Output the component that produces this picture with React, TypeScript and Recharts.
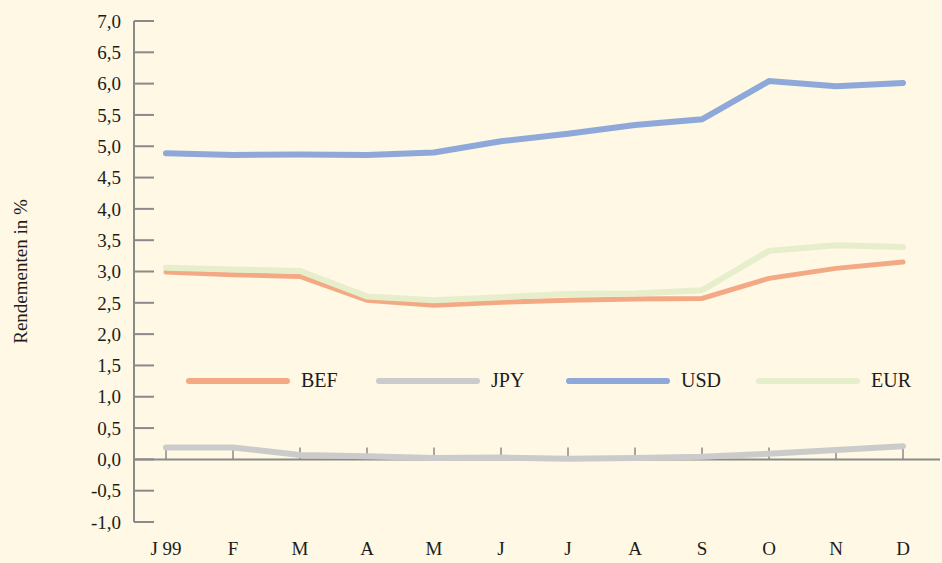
import React from 'react';
import { LineChart, Line, XAxis, YAxis, ReferenceLine, Legend } from 'recharts';

const months = ['J 99', 'F', 'M', 'A', 'M', 'J', 'J', 'A', 'S', 'O', 'N', 'D'];
const bef = [2.99, 2.95, 2.92, 2.54, 2.46, 2.51, 2.54, 2.56, 2.57, 2.89, 3.05, 3.15];
const jpy = [0.19, 0.19, 0.07, 0.05, 0.02, 0.03, 0.01, 0.02, 0.04, 0.09, 0.15, 0.21];
const usd = [4.89, 4.86, 4.87, 4.86, 4.9, 5.08, 5.2, 5.34, 5.43, 6.04, 5.96, 6.01];
const eur = [3.06, 3.03, 3.01, 2.6, 2.54, 2.59, 2.64, 2.65, 2.7, 3.33, 3.42, 3.39];
const yTicks = [-1, -0.5, 0, 0.5, 1, 1.5, 2, 2.5, 3, 3.5, 4, 4.5, 5, 5.5, 6, 6.5, 7];
const legendOrder = ['BEF', 'JPY', 'USD', 'EUR'];

const data = months.map((m, i) => ({
  key: String(i),
  month: m,
  BEF: bef[i],
  JPY: jpy[i],
  USD: usd[i],
  EUR: eur[i],
}));

const axisColor = '#8a8a8a';
const textColor = '#1c1c1c';
const font = '"Liberation Serif", "DejaVu Serif", serif';

const renderLegend = (props: any) => {
  const items = [...(props.payload || [])].sort(
    (a: any, b: any) => legendOrder.indexOf(a.value) - legendOrder.indexOf(b.value)
  );
  return (
    <div style={{ display: 'flex', fontFamily: font, fontSize: 20, color: textColor }}>
      {items.map((p: any) => (
        <div key={p.value} style={{ width: 195, display: 'flex', alignItems: 'center' }}>
          <span
            style={{
              display: 'inline-block',
              width: 104,
              height: 6,
              borderRadius: 3,
              background: p.color,
              marginRight: 11,
            }}
          />
          <span>{p.value}</span>
        </div>
      ))}
    </div>
  );
};

const YLabel = (props: any) => {
  const { viewBox } = props;
  const x = viewBox.x + 20;
  const y = viewBox.y + viewBox.height / 2;
  return (
    <text
      x={x}
      y={y}
      transform={`rotate(-90, ${x}, ${y})`}
      textAnchor="middle"
      dominantBaseline="central"
      fill={textColor}
      fontSize={19}
      fontFamily={font}
    >
      Rendementen in %
    </text>
  );
};

export default function App() {
  return (
    <div
      style={{
        position: 'absolute',
        left: 0,
        top: 0,
        width: 942,
        height: 563,
        background: '#fef8e4',
      }}
    >
      <LineChart
        width={942}
        height={563}
        data={data}
        margin={{ top: 21, right: 2, bottom: 11, left: 0 }}
        style={{ fontFamily: font }}
      >
        <XAxis
          dataKey="key"
          padding={{ left: 32, right: 37 }}
          axisLine={false}
          tickLine={false}
          tickSize={6}
          tickMargin={14}
          height={30}
          interval={0}
          tickFormatter={(_v: any, i: number) => months[i]}
          tick={{ fill: textColor, fontSize: 19, fontFamily: font }}
        />
        <YAxis
          width={134}
          domain={[-1, 7]}
          ticks={yTicks}
          interval={0}
          tickSize={-20}
          tickMargin={33}
          axisLine={{ stroke: axisColor, strokeWidth: 2 }}
          tickLine={{ stroke: axisColor, strokeWidth: 2 }}
          tickFormatter={(v: number) => v.toFixed(1).replace('.', ',')}
          tick={{ fill: textColor, fontSize: 19, fontFamily: font }}
          label={<YLabel />}
        />
        <ReferenceLine y={0} stroke={axisColor} strokeWidth={2} />
        {data.map((d) => (
          <ReferenceLine
            key={`t${d.key}`}
            segment={[
              { x: d.key, y: 0 },
              { x: d.key, y: 0.19 },
            ]}
            stroke={axisColor}
            strokeWidth={1.5}
          />
        ))}
        <Legend
          layout="horizontal"
          verticalAlign="middle"
          align="center"
          content={renderLegend}
          wrapperStyle={{ position: 'absolute', left: 186, top: 369, width: 760 }}
        />
        <Line
          type="linear"
          dataKey="BEF"
          stroke="#f4a985"
          strokeWidth={5}
          strokeLinecap="round"
          dot={false}
          isAnimationActive={false}
        />
        <Line
          type="linear"
          dataKey="JPY"
          stroke="#cbcbcb"
          strokeWidth={6}
          strokeLinecap="round"
          dot={false}
          isAnimationActive={false}
        />
        <Line
          type="linear"
          dataKey="USD"
          stroke="#8da8d9"
          strokeWidth={6}
          strokeLinecap="round"
          dot={false}
          isAnimationActive={false}
        />
        <Line
          type="linear"
          dataKey="EUR"
          stroke="#e6eecb"
          strokeWidth={6}
          strokeLinecap="round"
          dot={false}
          isAnimationActive={false}
        />
      </LineChart>
    </div>
  );
}
